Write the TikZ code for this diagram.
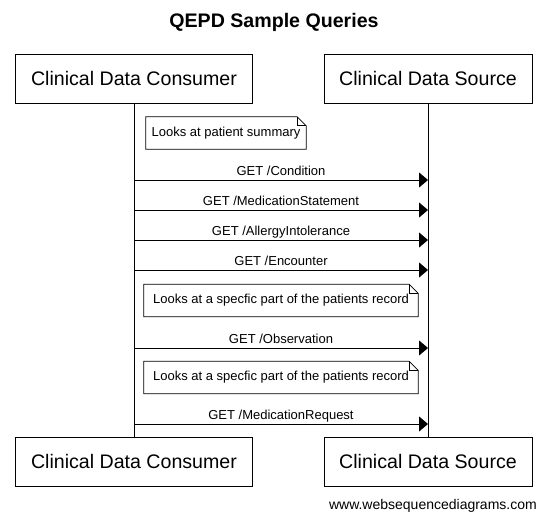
\documentclass[tikz,border=0pt]{standalone}
\usepackage{fontspec}
\setmainfont{Liberation Sans}
\usetikzlibrary{arrows.meta,calc}
\begin{document}
\begin{tikzpicture}[x=1pt,y=-1pt,
  actor/.style={draw,line width=0.9pt,minimum width=#1,minimum height=49pt,inner sep=0pt,font=\fontsize{19.6}{22}\selectfont},
  notebox/.style={minimum width=#1,minimum height=32pt,inner sep=0pt,font=\fontsize{13}{15}\selectfont},
  msg/.style={line width=0.9pt,-{Triangle[length=9pt,width=15pt]}},
  lbl/.style={font=\fontsize{13}{15}\selectfont,anchor=base,inner sep=0pt},
  life/.style={line width=0.9pt}]
\useasboundingbox (0,0) rectangle (547,520);
\node[font=\bfseries\fontsize{19.6}{22}\selectfont] (title) at (274,22) {QEPD Sample Queries};
\node[actor=237pt] (cT) at (134,78.5) {Clinical Data Consumer};
\node[actor=208pt] (sT) at (428,78.5) {Clinical Data Source};
\node[actor=237pt] (cB) at (134,461.5) {Clinical Data Consumer};
\node[actor=208pt] (sB) at (428,461.5) {Clinical Data Source};
\draw[life] (cT.south) -- (cB.north);
\draw[life] (sT.south) -- (sB.north);
% notes
\newcommand{\notefold}[1]{%
  \fill[white] (#1.north west) -- ([xshift=-9pt]#1.north east) -- ([yshift=-9pt]#1.north east) -- (#1.south east) -- (#1.south west) -- cycle;
  \draw[line width=0.7pt] (#1.north west) -- ([xshift=-9pt]#1.north east) -- ([yshift=-9pt]#1.north east) -- (#1.south east) -- (#1.south west) -- cycle;
  \draw[line width=0.7pt] ([xshift=-9pt]#1.north east) |- ([yshift=-9pt]#1.north east);}
\node[notebox=160pt] (n1) at (226,133) {};
\notefold{n1}
\node[notebox=160pt] at (n1) {Looks at patient summary};
\node[notebox=274pt] (n2) at (281,300.5) {};
\notefold{n2}
\node[notebox=274pt] at (n2) {Looks at a specfic part of the patients record};
\node[notebox=274pt] (n3) at (281,377.5) {};
\notefold{n3}
\node[notebox=274pt] at (n3) {Looks at a specfic part of the patients record};
% messages
\foreach \y/\t in {180/{GET /Condition},210/{GET /MedicationStatement},240/{GET /AllergyIntolerance},270/{GET /Encounter},348/{GET /Observation},424/{GET /MedicationRequest}}{
  \coordinate (a) at (cT.south |- 0,\y);
  \coordinate (b) at (sT.south |- 0,\y);
  \draw[msg] (a) -- (b);
  \node[lbl] at ([yshift=4.5pt]$(a)!0.5!(b)$) {\t};
}
\node[font=\fontsize{14}{16}\selectfont,anchor=east,inner sep=0pt] (foot) at (537,506) {www.websequencediagrams.com};
\end{tikzpicture}
\end{document}
